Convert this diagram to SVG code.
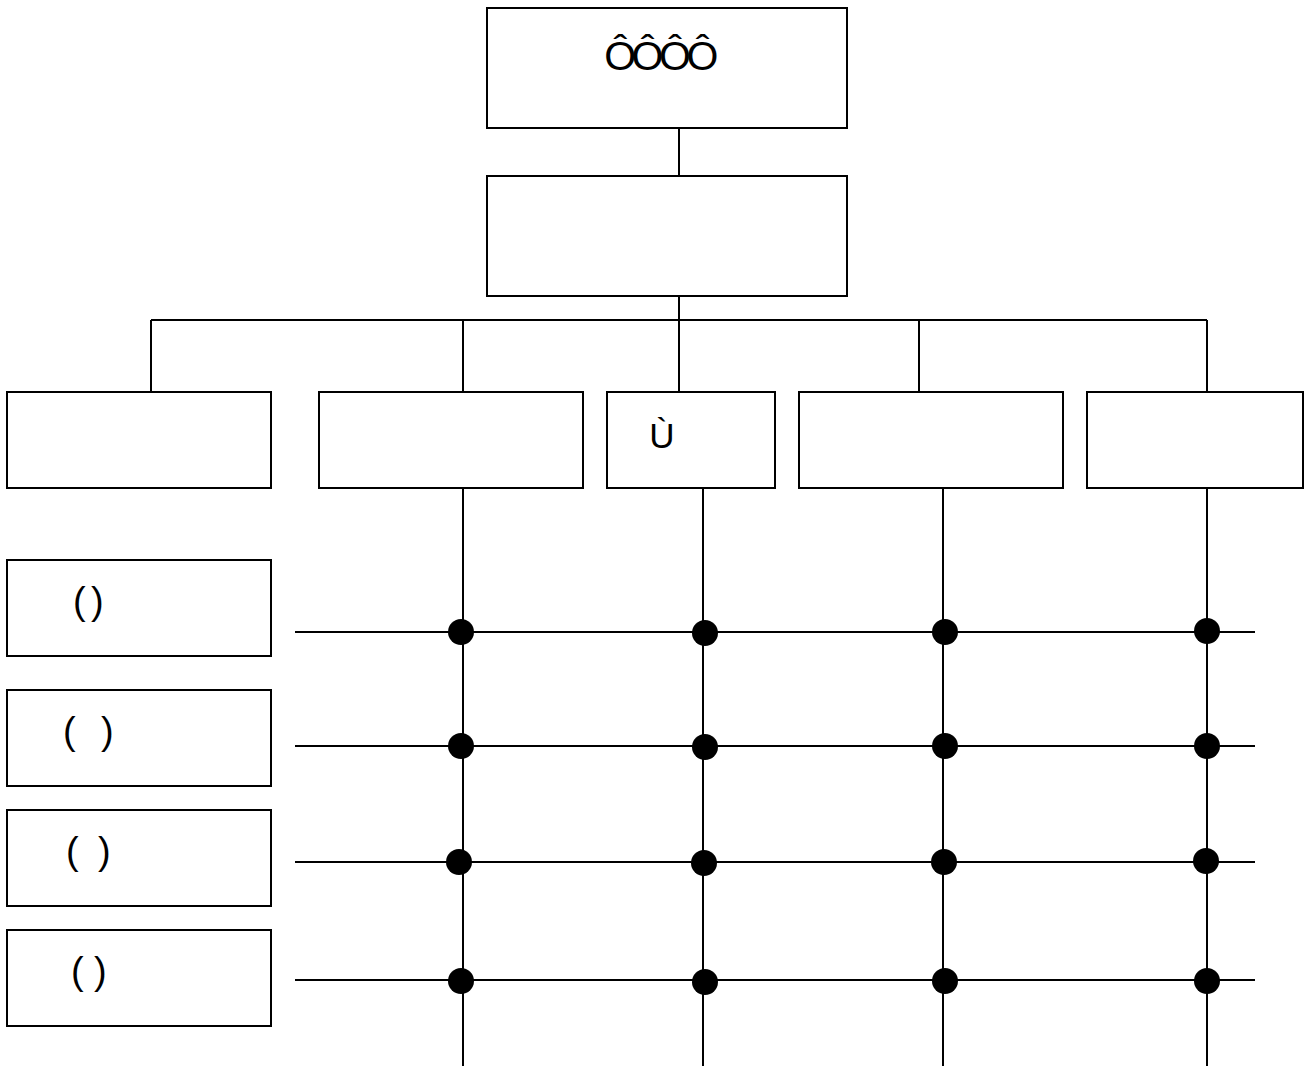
<svg xmlns="http://www.w3.org/2000/svg" width="1310" height="1066" viewBox="0 0 1310 1066">
<style>
.box{fill:#fff;stroke:#000;stroke-width:2}
.ln{stroke:#000;stroke-width:2;fill:none}
.dot{fill:#000}
.t{font-family:"Liberation Sans",Arial,sans-serif;fill:#000}
</style>
<rect width="1310" height="1066" fill="#fff"/>
<g id="connectors">
<path class="ln" d="M679 128V176M679 296V320M151 320H1207M151 320V392M463 320V392M679 320V392M919 320V392M1207 320V392"/>
<path class="ln" d="M463 488V1066M703 488V1066M943 488V1066M1207 488V1066"/>
<path class="ln" d="M295 632H1255M295 746H1255M295 862H1255M295 980H1255"/>
<g class="dot">
<circle cx="461" cy="632" r="13"/><circle cx="705" cy="633" r="13"/><circle cx="945" cy="632" r="13"/><circle cx="1207" cy="631" r="13"/>
<circle cx="461" cy="746" r="13"/><circle cx="705" cy="747" r="13"/><circle cx="945" cy="746" r="13"/><circle cx="1207" cy="746" r="13"/>
<circle cx="459" cy="862" r="13"/><circle cx="704" cy="863" r="13"/><circle cx="944" cy="862" r="13"/><circle cx="1206" cy="861" r="13"/>
<circle cx="461" cy="981" r="13"/><circle cx="705" cy="982" r="13"/><circle cx="945" cy="981" r="13"/><circle cx="1207" cy="981" r="13"/>
</g>
</g>
<g id="top"><rect class="box" x="487" y="8" width="360" height="120"/><text class="t" x="659" y="70" font-size="41" letter-spacing="-4.5" text-anchor="middle">ÔÔÔÔ</text></g>
<g id="second"><rect class="box" x="487" y="176" width="360" height="120"/></g>
<g id="n1"><rect class="box" x="7" y="392" width="264" height="96"/></g>
<g id="n2"><rect class="box" x="319" y="392" width="264" height="96"/></g>
<g id="n3"><rect class="box" x="607" y="392" width="168" height="96"/><text class="t" x="662" y="448" font-size="35" text-anchor="middle">Ù</text></g>
<g id="n4"><rect class="box" x="799" y="392" width="264" height="96"/></g>
<g id="n5"><rect class="box" x="1087" y="392" width="216" height="96"/></g>
<g id="l1"><rect class="box" x="7" y="560" width="264" height="96"/><text class="t" font-size="38" y="614"><tspan x="73">(</tspan><tspan x="91">)</tspan></text></g>
<g id="l2"><rect class="box" x="7" y="690" width="264" height="96"/><text class="t" font-size="38" y="744"><tspan x="63">(</tspan><tspan x="101">)</tspan></text></g>
<g id="l3"><rect class="box" x="7" y="810" width="264" height="96"/><text class="t" font-size="38" y="864"><tspan x="66">(</tspan><tspan x="98">)</tspan></text></g>
<g id="l4"><rect class="box" x="7" y="930" width="264" height="96"/><text class="t" font-size="38" y="984"><tspan x="71">(</tspan><tspan x="94">)</tspan></text></g>
</svg>
